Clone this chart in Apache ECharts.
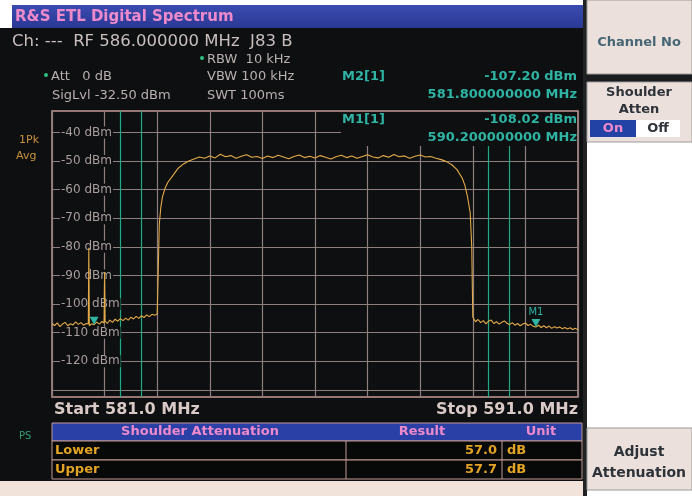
<!DOCTYPE html>
<html>
<head>
<meta charset="utf-8">
<script src="https://cdn.jsdelivr.net/npm/echarts@6/dist/echarts.min.js"></script>
<style>
  html, body { margin: 0; padding: 0; background: #fff; }
  #chart { width: 692px; height: 496px; }
</style>
</head>
<body>
<div id="chart"></div>
<script>
const chart = echarts.init(document.getElementById('chart'));

// trace (MHz / dBm)
// prettier-ignore
const freqMHz = [581.00,581.05,581.10,581.15,581.20,581.25,581.30,581.35,581.40,581.45,581.50,581.55,581.60,581.65,581.69,581.70,581.71,581.75,581.80,581.85,581.90,581.95,581.99,582.00,582.01,582.05,582.10,582.15,582.20,582.25,582.30,582.35,582.40,582.45,582.50,582.55,582.60,582.65,582.70,582.75,582.80,582.85,582.90,582.95,583.00,583.02,583.04,583.07,583.10,583.15,583.20,583.30,583.40,583.50,583.60,583.70,583.80,583.90,
584.0,584.1,584.2,584.3,584.4,584.5,584.6,584.7,584.8,584.9,585.0,585.1,585.2,585.3,585.4,585.5,585.6,585.7,585.8,585.9,586.0,586.1,586.2,586.3,586.4,586.5,586.6,586.7,586.8,586.9,587.0,587.1,587.2,587.3,587.4,587.5,587.6,587.7,587.8,587.9,588.0,588.1,588.2,588.3,
588.40,588.50,588.60,588.70,588.80,588.85,588.90,588.95,588.98,589.00,589.05,589.10,589.15,589.20,589.25,589.30,589.35,589.40,589.45,589.50,589.55,589.60,589.65,589.70,589.75,589.80,589.85,589.90,589.95,590.00,590.05,590.10,590.15,590.20,590.25,590.30,590.35,590.40,590.45,590.50,590.55,590.60,590.65,590.70,590.75,590.80,590.85,590.90,590.95,591.00];
// prettier-ignore
const levelDbm = [-106.8,-107.5,-106.6,-107.9,-107.0,-106.4,-107.6,-106.9,-107.3,-106.2,-107.1,-106.5,-107.4,-106.8,-107.0,-80.3,-107.6,-106.9,-107.2,-106.3,-107.0,-106.1,-106.6,-88.8,-106.0,-106.8,-105.6,-106.4,-105.3,-106.0,-105.1,-105.8,-104.9,-105.6,-104.6,-105.2,-104.3,-105.0,-104.1,-104.7,-103.8,-104.4,-103.6,-103.9,-103.5,-88.0,-72.0,-66.0,-62.5,-59.5,-57.5,-55.0,-52.5,-51.0,-50.0,-49.3,-48.6,-49.0,
-48.2,-48.9,-47.6,-48.5,-48.1,-49.0,-48.3,-47.8,-48.7,-48.4,-49.1,-48.2,-48.8,-48.0,-48.6,-49.2,-48.4,-47.9,-48.8,-48.3,-48.9,-48.1,-48.7,-49.3,-48.5,-48.0,-48.8,-48.2,-49.0,-48.4,-47.8,-48.6,-48.9,-48.1,-48.7,-47.7,-48.5,-48.2,-49.0,-48.3,-47.9,-48.6,-48.4,-49.0,
-49.5,-50.2,-51.3,-53.0,-56.0,-58.5,-62.5,-68.0,-80.0,-104.5,-106.2,-105.4,-106.5,-105.8,-106.9,-106.0,-105.6,-106.8,-106.2,-107.0,-106.4,-105.9,-106.7,-107.2,-106.5,-107.4,-106.8,-107.6,-107.0,-106.6,-107.5,-107.1,-107.8,-108.0,-107.4,-108.2,-107.6,-108.3,-107.7,-108.5,-107.9,-108.4,-108.0,-108.6,-108.2,-108.7,-108.3,-108.9,-108.5,-109.0];

const yTicks = [-40, -50, -60, -70, -80, -90, -100, -110, -120, -130];
const yLabels = [-40, -50, -60, -70, -80, -90, -100, -110, -120];
const shoulderLines = [582.3, 582.7, 589.3, 589.7];

const markerNames = ['M1', 'M2'];
const markerFreq = [590.2, 581.8];
const markerLevel = [-108.02, -107.2];

const tableRows = ['Lower', 'Upper'];
const tableResult = ['57.0', '57.7'];

const BG = '#0d0f10';
const GRID = '#8e7e7e';
const TEAL = '#2fb3a3';
const TRACE = '#e4aa48';
const FONT = 'DejaVu Sans';

const trace = freqMHz.map((f, i) => [f, levelDbm[i]]);

function txt(x, y, text, size, fill, extra) {
  return {
    type: 'text', x: x, y: y, z: 20,
    style: Object.assign({
      text: text, fill: fill, font: size + 'px "' + FONT + '"',
      textVerticalAlign: 'middle', textAlign: 'left'
    }, (extra && extra.style) || {})
  };
}
const right = { style: { textAlign: 'right' } };
const center = { style: { textAlign: 'center' } };
function box(x, y, w, h, fill, stroke, z) {
  return {
    type: 'rect', z: z === undefined ? 5 : z,
    shape: { x: x, y: y, width: w, height: h },
    style: { fill: fill, stroke: stroke || null, lineWidth: 1 }
  };
}

const fmtMarker = (i) => [
  markerLevel[i].toFixed(2) + ' dBm',
  markerFreq[i].toFixed(9) + ' MHz'
];
const m2 = fmtMarker(1);
const m1 = fmtMarker(0);

const graphics = [
  // frame pieces (page background is dark, white bits drawn here)
  box(0, 0, 584, 5, '#ffffff', null, 1),
  box(0, 0, 12, 28, '#ffffff', null, 1),
  {
    type: 'rect', z: 1, shape: { x: 12, y: 5, width: 572, height: 23 },
    style: { fill: new echarts.graphic.LinearGradient(0, 0, 0, 1, [
      { offset: 0, color: '#3a4cb0' }, { offset: 1, color: '#2a3894' }
    ]) }
  },
  box(0, 481, 584, 15, '#f1e2da', null, 1),
  box(583, 0, 109, 496, '#ffffff', null, 1),
  box(583, 0, 4, 496, '#202224', null, 2),
  box(587, 74, 105, 8, '#1a1c1e', null, 2),
  // title + header text
  txt(15, 17, 'R&S ETL Digital Spectrum', 'bold 15', '#ee8acb'),
  txt(12, 42, 'Ch: ---  RF 586.000000 MHz  J83 B', 16.5, '#c9bfbf'),
  { type: 'circle', z: 20, shape: { cx: 202, cy: 58, r: 2 }, style: { fill: '#2fbf80' } },
  txt(207, 60, 'RBW  10 kHz', 13, '#b9b0b0'),
  { type: 'circle', z: 20, shape: { cx: 46, cy: 75, r: 2 }, style: { fill: '#2fbf80' } },
  txt(51, 77, 'Att   0 dB', 13, '#b9b0b0'),
  txt(207, 77, 'VBW 100 kHz', 13, '#b9b0b0'),
  txt(52, 96, 'SigLvl -32.50 dBm', 13, '#b9b0b0'),
  txt(207, 96, 'SWT 100ms', 13, '#b9b0b0'),
  // marker readouts
  txt(342, 77, markerNames[1] + '[1]', 'bold 13', TEAL),
  txt(577, 77, m2[0], 'bold 13', TEAL, right),
  txt(577, 95, m2[1], 'bold 13', TEAL, right),
  box(341, 112, 236, 34, BG, null, 15),
  txt(342, 120, markerNames[0] + '[1]', 'bold 13', TEAL),
  txt(577, 120, m1[0], 'bold 13', TEAL, right),
  txt(577, 138, m1[1], 'bold 13', TEAL, right),
  // trace legend at left
  txt(19, 140, '1Pk', 11, '#c8903e'),
  txt(16, 156, 'Avg', 11, '#c8903e'),
  txt(19, 436, 'PS', 10, '#2f9f70'),
  // start / stop
  txt(54, 410, 'Start 581.0 MHz', 'bold 16', '#d9c9c6'),
  txt(578, 410, 'Stop 591.0 MHz', 'bold 16', '#d9c9c6', right),
  // table
  box(52, 423, 530, 18, '#2b40a6', '#c49a94', 5),
  txt(200, 432, 'Shoulder Attenuation', 'bold 13', '#ee8acb', center),
  txt(422, 432, 'Result', 'bold 13', '#ee8acb', center),
  txt(541, 432, 'Unit', 'bold 13', '#ee8acb', center),
  box(52, 441, 530, 19, '#070808', '#c49a94', 5),
  box(52, 460, 530, 19, '#070808', '#c49a94', 5),
  { type: 'line', z: 6, shape: { x1: 346, y1: 441, x2: 346, y2: 479 }, style: { stroke: '#c49a94' } },
  { type: 'line', z: 6, shape: { x1: 502, y1: 441, x2: 502, y2: 479 }, style: { stroke: '#c49a94' } },
  // soft keys
  box(587, 0, 105, 74, '#ece0dc', '#9a9a9a', 3),
  txt(639, 43, 'Channel No', 'bold 13', '#466676', center),
  box(587, 82, 105, 60, '#ece0dc', '#9a9a9a', 3),
  txt(639, 93, 'Shoulder', 'bold 13', '#2d3338', center),
  txt(639, 110, 'Atten', 'bold 13', '#2d3338', center),
  box(590, 120, 46, 17, '#2342a6', null, 4),
  box(636, 120, 44, 17, '#ffffff', null, 4),
  txt(613, 129, 'On', 'bold 13', '#ee8acb', center),
  txt(658, 129, 'Off', 'bold 13', '#2d3338', center),
  box(587, 428, 105, 62, '#ece0dc', '#9a9a9a', 3),
  txt(639, 452, 'Adjust', 'bold 14', '#2d3338', center),
  txt(639, 473, 'Attenuation', 'bold 14', '#2d3338', center)
];

tableRows.forEach((name, i) => {
  const y = 451 + i * 19;
  graphics.push(txt(55, y, name, 'bold 13', '#e3a425'));
  graphics.push(txt(497, y, tableResult[i], 'bold 13', '#e3a425', right));
  graphics.push(txt(507, y, 'dB', 'bold 13', '#e3a425'));
});

const option = {
  backgroundColor: BG,
  animation: false,
  textStyle: { fontFamily: FONT },
  grid: {
    left: 52, right: 114, top: 111, height: 286,
    show: true, backgroundColor: BG, borderColor: '#c49a94', borderWidth: 1.5
  },
  xAxis: [
    {
      type: 'value', min: 581, max: 591, interval: 1,
      axisLine: { show: false }, axisTick: { show: false }, axisLabel: { show: false },
      splitLine: { show: true, lineStyle: { color: GRID, width: 1.2 } }
    },
    {
      type: 'value', min: 581, max: 591, position: 'bottom',
      axisLine: { show: false }, axisLabel: { show: false }, splitLine: { show: false },
      axisTick: {
        show: true, inside: true, length: 286, customValues: shoulderLines,
        lineStyle: { color: '#22a884', width: 1.2 }
      }
    }
  ],
  yAxis: {
    type: 'value', min: -132.5, max: -32.5,
    axisLine: { show: false },
    splitLine: { show: false },
    axisTick: {
      show: true, inside: true, length: 526, customValues: yTicks,
      lineStyle: { color: GRID, width: 1.2 }
    },
    axisLabel: {
      show: true, inside: true, margin: 8, customValues: yLabels,
      formatter: (v) => v + ' dBm',
      color: '#a99d9d', fontSize: 12, fontFamily: FONT,
      backgroundColor: BG, padding: [0, 1]
    }
  },
  graphic: graphics,
  series: [
    {
      type: 'line',
      data: trace,
      showSymbol: false,
      silent: true,
      lineStyle: { color: TRACE, width: 1.1 },
      markPoint: {
        silent: true,
        symbol: 'triangle',
        symbolRotate: 180,
        symbolSize: [9, 8],
        symbolOffset: [0, -4],
        itemStyle: { color: TEAL },
        data: markerNames.map((n, i) => ({
          name: n, coord: [markerFreq[i], markerLevel[i]],
          label: { show: n === 'M1', position: 'top', distance: 2, formatter: n, color: TEAL, fontSize: 10 }
        }))
      }
    }
  ]
};

chart.setOption(option);
window.addEventListener('resize', function () { chart.resize(); });
</script>
</body>
</html>
